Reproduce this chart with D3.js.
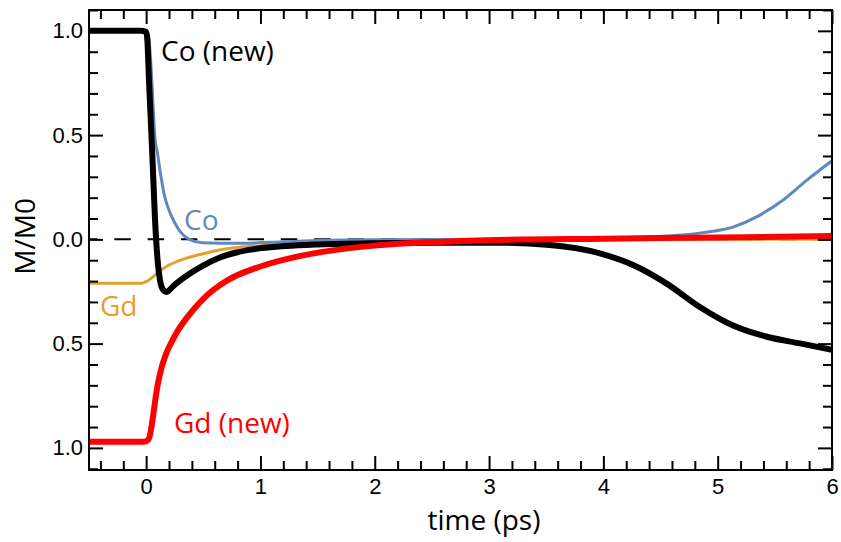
<!DOCTYPE html>
<html>
<head>
<meta charset="utf-8">
<script src="https://cdn.jsdelivr.net/npm/d3@7"></script>
<style>
  body { margin: 0; background: #fff; }
  svg { display: block; }
</style>
</head>
<body>
<svg id="chart" width="841" height="542"></svg>
<script>
// values: time in ps, magnetisation M/M0
const coNewTime = [-0.5, -0.05, 0, 0.01, 0.025, 0.052, 0.078, 0.1, 0.122, 0.148, 0.175, 0.2, 0.23, 0.29, 0.347, 0.49, 0.64, 0.79, 0.93, 1.22, 1.51, 2, 2.5, 3.09, 3.53, 3.97, 4.26, 4.55, 4.84, 5.13, 5.43, 5.72, 6];
const coNewM = [1, 1, 0.995, 0.96, 0.76, 0.43, 0.09, -0.1, -0.2, -0.242, -0.252, -0.245, -0.228, -0.2, -0.177, -0.128, -0.088, -0.063, -0.048, -0.032, -0.024, -0.018, -0.016, -0.016, -0.027, -0.067, -0.123, -0.211, -0.323, -0.412, -0.467, -0.499, -0.53];

const coTime = [-0.5, 0, 0.02, 0.04, 0.06, 0.075, 0.1, 0.13, 0.16, 0.2, 0.25, 0.3, 0.376, 0.49, 0.785, 1.22, 1.51, 2, 3, 3.5, 4, 4.41, 4.84, 5.14, 5.34, 5.57, 5.78, 6];
const coM = [1, 1, 0.98, 0.85, 0.65, 0.5, 0.41, 0.3, 0.21, 0.14, 0.08, 0.036, 0, -0.016, -0.019, -0.011, -0.005, -0.002, 0, 0.002, 0.004, 0.012, 0.03, 0.06, 0.108, 0.188, 0.284, 0.377];

const gdTime = [-0.5, -0.04, 0, 0.025, 0.113, 0.2, 0.347, 0.49, 0.64, 1, 1.5, 2, 3, 4, 5, 6];
const gdM = [-0.21, -0.21, -0.203, -0.195, -0.155, -0.123, -0.091, -0.07, -0.051, -0.03, -0.015, -0.008, -0.003, 0, 0, 0];

const gdNewTime = [-0.5, -0.02, 0.02, 0.04, 0.06, 0.08, 0.1, 0.13, 0.17, 0.22, 0.28, 0.35, 0.5, 0.7, 1, 1.3, 1.6, 2, 2.5, 3, 4, 5, 6];
const gdNewM = [-0.971, -0.971, -0.96, -0.92, -0.85, -0.77, -0.7, -0.625, -0.555, -0.495, -0.435, -0.38, -0.285, -0.2, -0.13, -0.085, -0.055, -0.03, -0.013, -0.004, 0.003, 0.009, 0.016];

const xMajor = [0, 1, 2, 3, 4, 5, 6];
const yMajor = [-1, -0.5, 0, 0.5, 1];

const svg = d3.select("#chart");
const plotLeft = 89, plotRight = 832, plotTop = 10, plotBottom = 470;

const x = d3.scaleLinear().domain([-0.5, 6]).range([plotLeft, plotRight]);
const y = d3.scaleLinear().domain([-1.106, 1.1]).range([plotBottom, plotTop]);

const xMinor = d3.range(-0.4, 6, 0.2).filter(v => Math.abs(v - Math.round(v)) > 1e-6);
const yMinor = d3.range(-1.1, 1.11, 0.1).filter(v => Math.abs(v * 2 - Math.round(v * 2)) > 1e-6);

svg.append("defs").append("clipPath").attr("id", "plotClip")
  .append("rect").attr("x", plotLeft).attr("y", plotTop)
  .attr("width", plotRight - plotLeft).attr("height", plotBottom - plotTop);

// zero line
svg.append("line")
  .attr("x1", plotLeft).attr("x2", plotRight)
  .attr("y1", y(0)).attr("y2", y(0))
  .attr("stroke", "#000").attr("stroke-width", 2)
  .attr("stroke-dasharray", "16.5,16.8")
  .attr("stroke-dashoffset", 8);

const line = d3.line()
  .x(d => x(d[0]))
  .y(d => y(d[1]))
  .curve(d3.curveMonotoneX);

const series = [
  { t: gdTime, m: gdM, color: "#e3a02c", width: 3 },
  { t: coTime, m: coM, color: "#6089c0", width: 3 },
  { t: coNewTime, m: coNewM, color: "#000000", width: 6 },
  { t: gdNewTime, m: gdNewM, color: "#ff0000", width: 6 }
];

const plot = svg.append("g").attr("clip-path", "url(#plotClip)");
plot.selectAll("path")
  .data(series)
  .enter()
  .append("path")
  .attr("d", s => line(d3.zip(s.t, s.m)))
  .attr("fill", "none")
  .attr("stroke", s => s.color)
  .attr("stroke-width", s => s.width)
  .attr("stroke-linejoin", "round");

// ticks on all four sides, pointing in
function styleAxis(g) {
  g.select(".domain").remove();
  g.selectAll(".tick line").attr("stroke", "#000").attr("stroke-width", 2);
  g.selectAll("text")
    .attr("font-family", "'Liberation Sans', Arial, sans-serif")
    .attr("font-size", 22)
    .attr("fill", "#000");
}

svg.append("g").attr("transform", `translate(0,${plotBottom})`)
  .call(d3.axisBottom(x).tickValues(xMajor).tickSizeInner(-14).tickSizeOuter(0).tickPadding(8).tickFormat(d3.format("d")))
  .call(styleAxis);
svg.append("g").attr("transform", `translate(0,${plotBottom})`)
  .call(d3.axisBottom(x).tickValues(xMinor).tickSizeInner(-9).tickSizeOuter(0).tickFormat(""))
  .call(styleAxis);
svg.append("g").attr("transform", `translate(0,${plotTop})`)
  .call(d3.axisTop(x).tickValues(xMajor).tickSizeInner(-14).tickSizeOuter(0).tickFormat(""))
  .call(styleAxis);
svg.append("g").attr("transform", `translate(0,${plotTop})`)
  .call(d3.axisTop(x).tickValues(xMinor).tickSizeInner(-9).tickSizeOuter(0).tickFormat(""))
  .call(styleAxis);

svg.append("g").attr("transform", `translate(${plotLeft},0)`)
  .call(d3.axisLeft(y).tickValues(yMajor).tickSizeInner(-14).tickSizeOuter(0).tickPadding(6).tickFormat(d => Math.abs(d).toFixed(1)))
  .call(styleAxis);
svg.append("g").attr("transform", `translate(${plotLeft},0)`)
  .call(d3.axisLeft(y).tickValues(yMinor).tickSizeInner(-9).tickSizeOuter(0).tickFormat(""))
  .call(styleAxis);
svg.append("g").attr("transform", `translate(${plotRight},0)`)
  .call(d3.axisRight(y).tickValues(yMajor).tickSizeInner(-14).tickSizeOuter(0).tickFormat(""))
  .call(styleAxis);
svg.append("g").attr("transform", `translate(${plotRight},0)`)
  .call(d3.axisRight(y).tickValues(yMinor).tickSizeInner(-9).tickSizeOuter(0).tickFormat(""))
  .call(styleAxis);

svg.append("rect")
  .attr("x", plotLeft).attr("y", plotTop)
  .attr("width", plotRight - plotLeft).attr("height", plotBottom - plotTop)
  .attr("fill", "none").attr("stroke", "#000").attr("stroke-width", 2);

const labelFont = "'Open Sans', 'Noto Sans', sans-serif";

svg.append("text")
  .attr("x", 484).attr("y", 530)
  .attr("text-anchor", "middle")
  .attr("font-family", labelFont).attr("font-size", 28)
  .text("time (ps)");

svg.append("text")
  .attr("transform", `translate(35,${y(0) - 3}) rotate(-90)`)
  .attr("text-anchor", "middle")
  .attr("font-family", labelFont).attr("font-size", 28)
  .text("M/M0");

const labels = [
  { text: "Co (new)", x: 161, y: 61, color: "#000000" },
  { text: "Co", x: 184, y: 230, color: "#6089c0" },
  { text: "Gd", x: 100, y: 316, color: "#e3a02c" },
  { text: "Gd (new)", x: 174, y: 433, color: "#ff0000" }
];
svg.selectAll("text.curve-label")
  .data(labels)
  .enter()
  .append("text")
  .attr("class", "curve-label")
  .attr("x", d => d.x).attr("y", d => d.y)
  .attr("fill", d => d.color)
  .attr("font-family", labelFont).attr("font-size", 28)
  .text(d => d.text);
</script>
</body>
</html>
